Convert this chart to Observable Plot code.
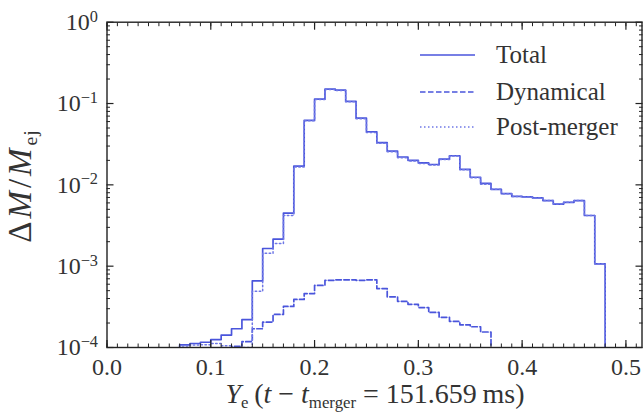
<!DOCTYPE html>
<html>
<head>
<meta charset="utf-8">
<script src="https://cdn.jsdelivr.net/npm/d3@7"></script>
<script src="https://cdn.jsdelivr.net/npm/@observablehq/plot@0.6"></script>
<style>
  html, body { margin: 0; padding: 0; background: #fff; }
  #chart { width: 644px; height: 414px; }
</style>
</head>
<body>
<div id="chart"></div>
<script>
// ---- data ----
const seriesNames = ["Total", "Dynamical", "Post-merger"];

const yeTotal = [0.07, 0.08, 0.09, 0.10, 0.11, 0.12, 0.13, 0.14, 0.15, 0.16, 0.17, 0.18, 0.19, 0.20,
  0.21, 0.22, 0.23, 0.24, 0.25, 0.26, 0.27, 0.28, 0.29, 0.30, 0.31, 0.32, 0.33, 0.34, 0.35, 0.36,
  0.37, 0.38, 0.39, 0.40, 0.41, 0.42, 0.43, 0.44, 0.45, 0.46, 0.47];
const total = [1.08e-4, 1.12e-4, 1.16e-4, 1.25e-4, 1.42e-4, 1.70e-4, 2.20e-4, 6.6e-4, 1.65e-3, 2.15e-3,
  4.5e-3, 1.7e-2, 6.2e-2, 0.113, 0.150, 0.146, 0.106, 0.066, 0.045, 0.033, 0.026, 0.022, 0.020,
  0.0186, 0.0178, 0.0207, 0.0228, 0.0155, 0.0124, 0.0104, 0.0088, 0.0078, 0.0072, 0.0071, 0.0069,
  0.0064, 0.0058, 0.0061, 0.0064, 0.0042, 0.00107];

const yeDyn = [0.12, 0.13, 0.14, 0.15, 0.16, 0.17, 0.18, 0.19, 0.20, 0.21, 0.22, 0.23, 0.24, 0.25,
  0.26, 0.27, 0.28, 0.29, 0.30, 0.31, 0.32, 0.33, 0.34, 0.35, 0.36];
const dynamical = [1.03e-4, 1.18e-4, 1.7e-4, 2.05e-4, 2.55e-4, 3.2e-4, 3.9e-4, 4.6e-4, 5.8e-4, 6.7e-4,
  6.8e-4, 6.8e-4, 6.7e-4, 6.8e-4, 5.3e-4, 4.2e-4, 3.7e-4, 3.4e-4, 3.1e-4, 2.7e-4, 2.35e-4, 2.1e-4,
  1.9e-4, 1.8e-4, 1.55e-4];

const yePost = [0.07, 0.08, 0.09, 0.10, 0.11, 0.12, 0.13, 0.14, 0.15, 0.16, 0.17, 0.18, 0.19, 0.20,
  0.21, 0.22, 0.23, 0.24, 0.25, 0.26, 0.27, 0.28, 0.29, 0.30, 0.31, 0.32, 0.33, 0.34, 0.35, 0.36,
  0.37, 0.38, 0.39, 0.40, 0.41, 0.42, 0.43, 0.44, 0.45, 0.46, 0.47];
const postMerger = [1.04e-4, 1.07e-4, 1.08e-4, 1.12e-4, 1.05e-4, 0.75e-4, 1.0e-4, 4.9e-4, 1.44e-3, 1.9e-3,
  4.2e-3, 1.66e-2, 6.15e-2, 0.112, 0.149, 0.145, 0.105, 0.065, 0.044, 0.0325, 0.0256, 0.0216, 0.0197,
  0.0183, 0.0175, 0.0205, 0.0226, 0.0153, 0.0122, 0.0102, 0.0088, 0.0078, 0.0072, 0.0071, 0.0069,
  0.0064, 0.0058, 0.0061, 0.0064, 0.0042, 0.00107];

const binWidth = 0.01;
const floorValue = 1e-7;

const xTicks = [0, 0.1, 0.2, 0.3, 0.4, 0.5];
const xTickLabels = ["0.0", "0.1", "0.2", "0.3", "0.4", "0.5"];
const yTicks = [1e-4, 1e-3, 1e-2, 1e-1, 1];
const yTickExps = ["\u22124", "\u22123", "\u22122", "\u22121", "0"];

// ---- styling ----
const blue = "#4a55dc";
const postColor = "#6f78e6";
const axisColor = "#222";
const textColor = "#333";
const fontFamily = "'Liberation Serif', 'DejaVu Serif', serif";

function stepPoints(name, edges, values) {
  const pts = [{series: name, x: edges[0], y: floorValue}];
  edges.forEach((e, i) => pts.push({series: name, x: e, y: values[i]}));
  const end = edges[edges.length - 1] + binWidth;
  pts.push({series: name, x: end, y: values[values.length - 1]});
  pts.push({series: name, x: end, y: floorValue});
  return pts;
}

const totalPts = stepPoints(seriesNames[0], yeTotal, total);
const dynPts = stepPoints(seriesNames[1], yeDyn, dynamical);
const postPts = stepPoints(seriesNames[2], yePost, postMerger);

const xMinor = d3.range(0, 0.516, 0.01);
const yMinor = [];
for (let e = -4; e < 0; e++) for (let m = 2; m <= 9; m++) yMinor.push(m * Math.pow(10, e));

const dashes = {"Total": null, "Dynamical": "5.5,2.5", "Post-merger": "1.5,2.5"};

const plot = Plot.plot({
  width: 644,
  height: 414,
  marginLeft: 106.5,
  marginRight: 2.5,
  marginTop: 21.7,
  marginBottom: 67,
  style: {fontFamily, fontSize: "24px", color: textColor, background: "#fff", overflow: "visible"},
  x: {type: "linear", domain: [0, 0.5155]},
  y: {type: "log", domain: [1e-4, 1]},
  marks: [
    Plot.line(totalPts, {x: "x", y: "y", curve: "step-after", stroke: blue, strokeWidth: 1.7, clip: true}),
    Plot.line(dynPts, {x: "x", y: "y", curve: "step-after", stroke: blue, strokeWidth: 1.7, strokeDasharray: dashes["Dynamical"], clip: true}),
    Plot.line(postPts, {x: "x", y: "y", curve: "step-after", stroke: postColor, strokeWidth: 1.5, strokeDasharray: dashes["Post-merger"], clip: true}),
    Plot.frame({stroke: axisColor, strokeWidth: 1.4}),
    // inward ticks on all four sides
    Plot.axisX(xTicks, {anchor: "bottom", tickSize: -7, tickFormat: () => "", label: null, stroke: axisColor, strokeWidth: 1.2}),
    Plot.axisX(xMinor, {anchor: "bottom", tickSize: -3.5, tickFormat: () => "", label: null, stroke: axisColor}),
    Plot.axisX(xTicks, {anchor: "top", tickSize: -7, tickFormat: () => "", label: null, stroke: axisColor, strokeWidth: 1.2}),
    Plot.axisX(xMinor, {anchor: "top", tickSize: -3.5, tickFormat: () => "", label: null, stroke: axisColor}),
    Plot.axisY(yTicks, {anchor: "left", tickSize: -7, tickFormat: () => "", label: null, stroke: axisColor, strokeWidth: 1.2}),
    Plot.axisY(yMinor, {anchor: "left", tickSize: -3.5, tickFormat: () => "", label: null, stroke: axisColor}),
    Plot.axisY(yTicks, {anchor: "right", tickSize: -7, tickFormat: () => "", label: null, stroke: axisColor, strokeWidth: 1.2}),
    Plot.axisY(yMinor, {anchor: "right", tickSize: -3.5, tickFormat: () => "", label: null, stroke: axisColor}),
    // tick labels
    Plot.axisX(xTicks, {anchor: "bottom", tickSize: 0, tickPadding: 10, tickFormat: d => xTickLabels[xTicks.indexOf(d)], label: null, fill: textColor, fontSize: 24}),
    Plot.axisY(yTicks, {anchor: "left", tickSize: 0, tickPadding: 9, tickFormat: d => "10^" + yTickExps[yTicks.indexOf(d)], label: null, fill: textColor, fontSize: 24})
  ]
});

document.getElementById("chart").appendChild(plot);

const svg = d3.select(plot);

// superscript exponents for y tick labels
svg.selectAll("text").each(function() {
  const t = this.textContent;
  if (t.startsWith("10^")) {
    const exp = t.slice(3);
    const el = d3.select(this);
    el.text(null);
    el.append("tspan").text("10");
    el.append("tspan").attr("dy", "-0.5em").attr("font-size", "0.68em").text(exp);
  }
});

// y-axis title: ΔM/M_ej
const yTitle = svg.append("text")
  .attr("transform", "translate(31,186) rotate(-90)")
  .attr("text-anchor", "middle")
  .attr("fill", textColor)
  .attr("font-family", fontFamily)
  .attr("font-size", 33)
  .attr("letter-spacing", 3);
yTitle.append("tspan").text("\u0394");
yTitle.append("tspan").attr("font-style", "italic").text("M");
yTitle.append("tspan").text("/");
yTitle.append("tspan").attr("font-style", "italic").text("M");
yTitle.append("tspan").attr("font-size", "0.6em").attr("dy", "0.3em").attr("letter-spacing", 1).text("ej");

// x-axis title: Y_e (t − t_merger = 151.659 ms)
const xTitle = svg.append("text")
  .attr("x", 375).attr("y", 403)
  .attr("text-anchor", "middle")
  .attr("fill", textColor)
  .attr("font-family", fontFamily)
  .attr("font-size", 28);
xTitle.append("tspan").attr("font-style", "italic").text("Y");
xTitle.append("tspan").attr("font-size", "0.6em").attr("dy", "0.3em").text("e");
xTitle.append("tspan").attr("dy", "-0.18em").text("\u2009(");
xTitle.append("tspan").attr("font-style", "italic").text("t");
xTitle.append("tspan").text(" \u2212 ");
xTitle.append("tspan").attr("font-style", "italic").text("t");
xTitle.append("tspan").attr("font-size", "0.6em").attr("dy", "0.3em").text("merger");
xTitle.append("tspan").attr("dy", "-0.18em").text(" = 151.659\u2009ms)");

// legend
const legendRows = [
  {name: seriesNames[0], y: 55, dash: dashes["Total"], color: blue},
  {name: seriesNames[1], y: 92, dash: dashes["Dynamical"], color: blue},
  {name: seriesNames[2], y: 127, dash: dashes["Post-merger"], color: postColor}
];
const lg = svg.append("g").attr("font-family", fontFamily).attr("font-size", 25);
legendRows.forEach(r => {
  lg.append("line").attr("x1", 420).attr("x2", 475).attr("y1", r.y).attr("y2", r.y)
    .attr("stroke", r.color).attr("stroke-width", 1.7)
    .attr("stroke-dasharray", r.dash);
  lg.append("text").attr("x", 496).attr("y", r.y).attr("dy", "0.33em")
    .attr("text-anchor", "start")
    .attr("fill", textColor).text(r.name);
});
</script>
</body>
</html>
